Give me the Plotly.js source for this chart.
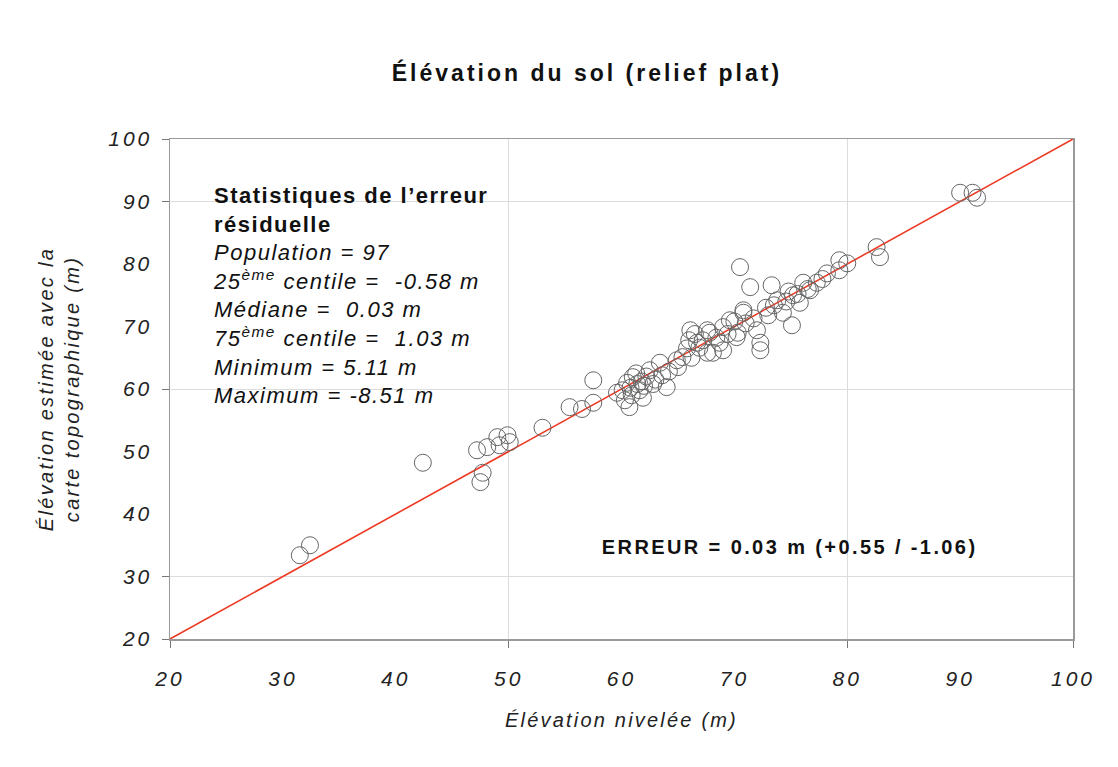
<!DOCTYPE html>
<html>
<head>
<meta charset="utf-8">
<script src="https://cdn.plot.ly/plotly-3.0.1.min.js"></script>
<style>
html,body{margin:0;padding:0;background:#fff;}
#chart{width:1118px;height:767px;}
#chart .gtitle{letter-spacing:3px;}
#chart .xtick text,#chart .ytick text{letter-spacing:3px;}
#chart .xtitle{letter-spacing:2.2px;}
#chart .ytitle{letter-spacing:2.3px;}
#chart .annotation-text{letter-spacing:1.5px;}
#chart .annotation[data-index="1"] .annotation-text{letter-spacing:2.4px;}
</style>
</head>
<body>
<div id="chart"></div>
<script>
// Élévation nivelée (m)
const nivelee = [31.5,32.4,42.4,47.5,47.7,47.2,48.1,49.0,49.2,49.9,50.1,53.0,55.4,57.5,57.5,56.5,60.1,60.7,61.0,61.6,
  60.5,61.3,62.5,61.8,60.8,62.2,63.4,64.0,62.8,61.9,60.3,64.9,65.4,66.1,66.7,67.6,67.8,69.0,69.0,70.2,
  70.8,65.8,66.5,67.2,68.1,68.7,67.6,69.6,70.8,70.5,71.4,73.3,73.8,75.2,75.1,72.0,72.3,72.3,74.3,75.8,
  76.1,76.7,77.3,78.2,79.3,79.3,80.0,82.6,82.9,90.0,91.1,91.5,71.0,71.7,72.8,73.5,74.6,75.6,76.5,77.8,
  74.8,70.3,69.4,68.4,66.9,66.2,65.0,64.2,63.6,62.0,60.9,59.6,61.4,63.0,66.0,70.0,73.0];
// Élévation estimée avec la carte topographique (m)
const estimee = [33.4,35.0,48.2,45.1,46.6,50.2,50.7,52.3,51.0,52.6,51.5,53.8,57.1,61.4,57.8,56.8,59.8,57.1,61.9,59.8,
  61.0,62.5,63.0,61.2,60.2,62.0,64.2,60.3,60.8,58.6,58.2,64.6,65.1,69.4,67.4,65.8,69.0,69.9,66.2,68.3,
  72.2,66.5,68.8,67.8,65.8,67.4,69.4,71.0,72.6,79.5,76.3,76.6,74.2,75.0,70.2,69.4,67.4,66.2,72.2,73.8,
  77.0,75.8,77.0,78.5,79.0,80.6,80.1,82.7,81.1,91.4,91.4,90.6,70.5,71.3,73.0,73.4,74.0,75.2,76.0,77.6,
  75.6,69.0,68.8,68.2,66.6,65.0,63.5,62.8,62.2,60.5,59.0,59.4,60.8,61.5,67.8,70.8,71.8];
// Ligne 1:1
const ligneX = [20, 100];
const ligneY = [20, 100];
const xTicks = [20,30,40,50,60,70,80,90,100];
const yTicks = [20,30,40,50,60,70,80,90,100];
const xGrid = [20,50,80,100];
const yGrid = [20,30,60,90,100];

const statsText = '<b>Statistiques de l\u2019erreur</b><br><b>résiduelle</b><br>' +
  '<i>Population = 97</i><br>' +
  '<i>25<sup>ème</sup> centile =  -0.58 m</i><br>' +
  '<i>Médiane =  0.03 m</i><br>' +
  '<i>75<sup>ème</sup> centile =  1.03 m</i><br>' +
  '<i>Minimum = 5.11 m</i><br>' +
  '<i>Maximum = -8.51 m</i>';

const font = 'Liberation Sans, Arial, sans-serif';

const traces = [
  {x: ligneX, y: ligneY, type: 'scatter', mode: 'lines',
   line: {color: '#ee3a24', width: 1.6}, hoverinfo: 'skip', showlegend: false},
  {x: nivelee, y: estimee, type: 'scatter', mode: 'markers',
   marker: {symbol: 'circle-open', size: 17, color: '#666', line: {width: 1, color: '#666'}},
   showlegend: false}
];

const axisCommon = {
  showline: true, mirror: true, linecolor: '#9a9a9a', linewidth: 1.5,
  showgrid: false, zeroline: false, ticks: '',
  tickfont: {family: font, size: 21, color: '#222', style: 'italic'},
  fixedrange: true
};

const layout = {
  width: 1118, height: 767,
  margin: {l: 170, r: 45, t: 139, b: 128},
  paper_bgcolor: '#fff', plot_bgcolor: '#fff',
  font: {family: font, color: '#111'},
  title: {text: '<b>Élévation du sol (relief plat)</b>', font: {family: font, size: 23, color: '#111'},
          x: 0.525, xanchor: 'center', y: 0.905, yanchor: 'middle'},
  xaxis: Object.assign({}, axisCommon, {
    range: [20, 100], tickmode: 'array', tickvals: xTicks, ticklabelstandoff: 20,
    minor: {tickmode: 'array', tickvals: xGrid, ticks: 'outside', ticklen: 7, tickcolor: '#777',
            showgrid: true, gridcolor: '#dcdcdc', gridwidth: 1},
    title: {text: 'Élévation nivelée (m)', standoff: 24,
            font: {family: font, size: 20, color: '#222', style: 'italic'}}
  }),
  yaxis: Object.assign({}, axisCommon, {
    range: [20, 100], tickmode: 'array', tickvals: yTicks, ticklabelstandoff: 12,
    minor: {tickmode: 'array', tickvals: yGrid, ticks: 'outside', ticklen: 7, tickcolor: '#777',
            showgrid: true, gridcolor: '#dcdcdc', gridwidth: 1},
    title: {text: 'Élévation estimée avec la<br>carte topographique (m)', standoff: 32,
            font: {family: font, size: 20, color: '#222', style: 'italic'}}
  }),
  annotations: [
    {xref: 'paper', yref: 'paper', x: 0.045, y: 0.917, xanchor: 'left', yanchor: 'top',
     text: statsText, showarrow: false, align: 'left',
     font: {family: font, size: 22, color: '#111'}},
    {xref: 'x', yref: 'y', x: 74.9, y: 34.7, xanchor: 'center', yanchor: 'middle',
     text: '<b>ERREUR = 0.03 m (+0.55 / -1.06)</b>', showarrow: false,
     font: {family: font, size: 20, color: '#111'}}
  ]
};

Plotly.newPlot('chart', traces, layout, {displayModeBar: false, staticPlot: true});
</script>
</body>
</html>
